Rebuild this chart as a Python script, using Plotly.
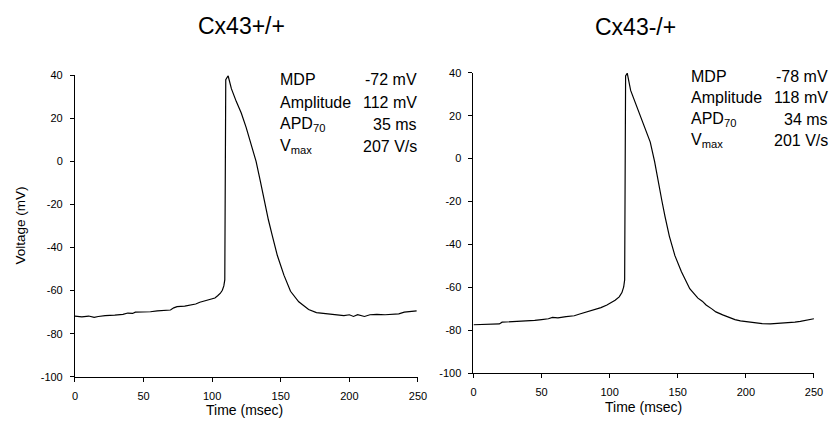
import plotly.graph_objects as go

W, H = 840, 434

# Cx43+/+ trace (time in msec, voltage in mV)
t_wt = [0, 5, 10, 14, 17, 22, 29, 35, 38.5, 42, 44, 48, 55, 60, 65, 69.6, 72, 74.4, 80, 84,
        88, 91, 95, 98, 102, 104, 106, 107.4, 108.5, 109.2, 109.9, 111.6, 114, 117.6, 121.2,
        124.8, 128.4, 132, 135.1, 137.9, 141, 143.9, 147.5, 152.3, 157.1, 163.1, 170.3, 176,
        182, 187, 192, 196, 200, 203, 206, 208, 211, 215, 220, 226, 232, 236, 240, 245, 249]
v_wt = [-71.8, -72.2, -71.8, -72.4, -72.0, -71.6, -71.4, -71.0, -70.4, -70.6, -70.0, -70.0,
        -69.8, -69.4, -69.2, -69.0, -68.0, -67.4, -67.2, -66.8, -66.2, -65.4, -64.8, -64.0,
        -63.4, -62.4, -61.2, -59.8, -57.8, -55.0, 38.0, 39.8, 33.8, 27.8, 22.5, 15.7, 8.2, 0,
        -9.1, -18.1, -27.2, -34.7, -43.7, -52.8, -60.3, -65.2, -68.8, -70.2, -70.6, -71.2,
        -71.2, -71.6, -71.2, -72.0, -71.2, -71.4, -72.0, -71.2, -71.0, -71.2, -70.8, -70.8,
        -70.0, -69.8, -69.4]

# Cx43-/+ trace
t_het = [0, 10, 19, 21, 30, 36, 45, 50, 55, 58, 62, 68, 74, 78, 84, 88, 93.6, 98, 101, 104,
         107, 109, 110.3, 111, 111.7, 112.9, 115.4, 119, 122.6, 126.2, 129.8, 133, 135.9,
         138.3, 140.7, 143.8, 147.9, 152.7, 158.8, 164.8, 168, 170.8, 175, 178, 183, 187.7,
         192, 196, 200, 206, 212, 218, 224, 230, 236, 240, 244, 250]
v_het = [-77.4, -77.2, -77.0, -76.2, -76.0, -75.8, -75.4, -75.0, -74.6, -74.0, -74.2, -73.6,
         -73.2, -72.4, -71.2, -70.6, -69.4, -68.2, -67.2, -66.0, -64.4, -62.4, -59.8, -56.5,
         38.5, 39.8, 31.8, 25.8, 20.5, 14.5, 7.7, -1.4, -10.4, -19.5, -27.1, -36.1, -45.2,
         -52.7, -60.6, -65.0, -66.4, -68.2, -70.0, -71.4, -72.8, -74.0, -75.0, -75.6, -76.0,
         -76.6, -76.9, -77.0, -76.8, -76.6, -76.2, -75.8, -75.4, -74.6]

titles = ["Cx43+/+", "Cx43-/+"]
labels = ["MDP", "Amplitude", "APD<sub>70</sub>", "V<sub>max</sub>"]
values_wt = ["-72 mV", "112 mV", "35 ms", "207 V/s"]
values_het = ["-78 mV", "118 mV", "34 ms", "201 V/s"]

x_ticks = [0, 50, 100, 150, 200, 250]
y_ticks = [-100, -80, -60, -40, -20, 0, 20, 40]
y_ticktext = ["-100", "-80", "-60", "-40", "-20", "0", "20", "40"]

def px(x):
    return x / W

def py(y):
    return 1 - y / H

FONT = "Liberation Sans, Arial, sans-serif"

fig = go.Figure()
fig.add_trace(go.Scatter(x=t_wt, y=v_wt, mode="lines", line=dict(color="black", width=1.2),
                         xaxis="x", yaxis="y", showlegend=False, hoverinfo="skip"))
fig.add_trace(go.Scatter(x=t_het, y=v_het, mode="lines", line=dict(color="black", width=1.2),
                         xaxis="x2", yaxis="y2", showlegend=False, hoverinfo="skip"))

axis_common = dict(showgrid=False, zeroline=False, showline=True, linecolor="black", linewidth=1,
                   ticks="outside", ticklen=4, tickwidth=1, tickcolor="black",
                   ticklabelstandoff=5,
                   tickfont=dict(family=FONT, size=11, color="black"))

fig.update_layout(
    width=W, height=H, margin=dict(l=0, r=0, t=0, b=0),
    paper_bgcolor="white", plot_bgcolor="white",
    xaxis=dict(domain=[px(73), px(421)], range=[0, 250], tickvals=x_ticks, anchor="y",
               **axis_common),
    yaxis=dict(domain=[py(381.3), py(71.3)], range=[-100, 40], tickvals=y_ticks,
               ticktext=y_ticktext, anchor="x", **axis_common),
    xaxis2=dict(domain=[px(477.3), px(822.7)], range=[0, 250], tickvals=x_ticks, anchor="y2",
                **axis_common),
    yaxis2=dict(domain=[py(377.7), py(68.7)], range=[-100, 40], tickvals=y_ticks,
                ticktext=y_ticktext, anchor="x2", **axis_common),
)

def text_at(x, y, txt, size, xanchor="center", angle=0):
    fig.add_annotation(x=px(x), y=py(y), xref="paper", yref="paper", text=txt, showarrow=False,
                       xanchor=xanchor, yanchor="middle", textangle=angle,
                       font=dict(family=FONT, size=size, color="black"))

# Panel titles
for cx, cy, txt in zip([241.5, 642], [21, 22], titles):
    text_at(cx, cy, txt, 23)

# Axis titles
text_at(18, 226, "Voltage (mV)", 13.5, angle=-90)
text_at(245, 415, "Time (msec)", 14)
text_at(650, 412, "Time (msec)", 14)

# Parameter tables
for lx, rx, rows, vals in [(279, 422, [76, 99, 122, 145], values_wt),
                           (696, 839, [72.5, 94, 116.5, 138.5], values_het)]:
    for ry, lab, val in zip(rows, labels, vals):
        text_at(lx, ry, lab, 16, xanchor="left")
        text_at(rx, ry, val, 16, xanchor="right")

fig.write_html("out.html", config={"displayModeBar": False},
               post_script="document.body.style.margin='0';document.body.style.padding='0';")
